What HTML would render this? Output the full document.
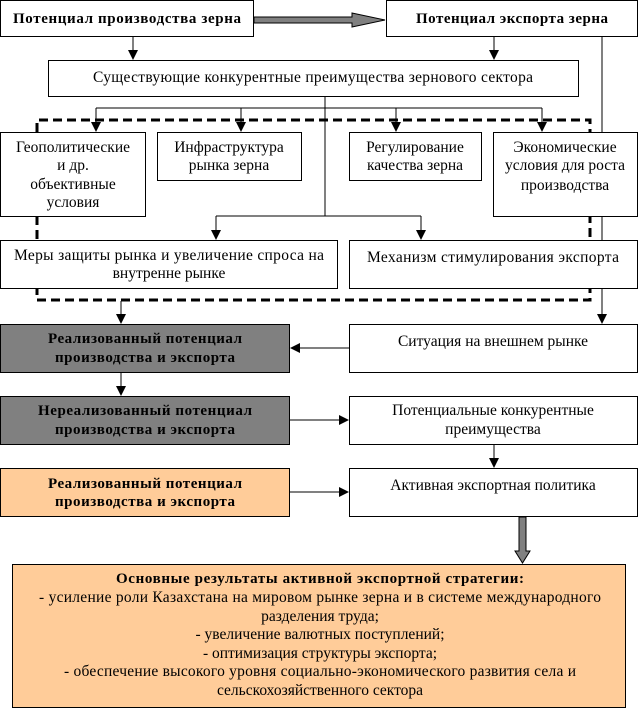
<!DOCTYPE html>
<html><head><meta charset="utf-8"><style>
body{margin:0;background:#fff}
svg{display:block}
text{font-family:"Liberation Serif",serif;font-size:15.5px;text-anchor:middle;fill:#000}
.b{font-weight:bold;font-size:15px}
</style></head><body>
<svg width="639" height="711" viewBox="0 0 639 711">
<defs>
<marker id="a" markerWidth="10" markerHeight="10" refX="9" refY="5" orient="auto" markerUnits="userSpaceOnUse"><path d="M0,0 L10,5 L0,10 Z" fill="#000"/></marker>
</defs>
<g fill="none" stroke="#000" stroke-width="1">
<path d="M37,216 V300 H590 V216 M37,132 V120 H590 V132" stroke-width="3" stroke-dasharray="9,5"/>
<path d="M602,37 V323" marker-end="url(#a)"/>
<path d="M325,97 V216"/>
<rect x="0.5" y="0.5" width="253" height="36" fill="#fff"/>
<rect x="386.5" y="0.5" width="251" height="36" fill="#fff"/>
<rect x="48.5" y="60.5" width="530" height="36" fill="#fff"/>
<rect x="0.5" y="132.5" width="145" height="84" fill="#fff"/>
<rect x="157.5" y="132.5" width="144" height="48" fill="#fff"/>
<rect x="349.5" y="132.5" width="132" height="48" fill="#fff"/>
<rect x="493.5" y="132.5" width="144" height="84" fill="#fff"/>
<rect x="0.5" y="240.5" width="337" height="48" fill="#fff"/>
<rect x="349.5" y="240.5" width="288" height="48" fill="#fff"/>
<rect x="0.5" y="324.5" width="289" height="48" fill="#808080"/>
<rect x="349.5" y="324.5" width="288" height="48" fill="#fff"/>
<rect x="0.5" y="396.5" width="289" height="48" fill="#808080"/>
<rect x="349.5" y="396.5" width="288" height="48" fill="#fff"/>
<rect x="0.5" y="468.5" width="289" height="48" fill="#FFCC99"/>
<rect x="349.5" y="468.5" width="288" height="48" fill="#fff"/>
<rect x="12.5" y="564.5" width="613" height="143" fill="#FFCC99"/>
<path d="M133,37 V59" marker-end="url(#a)"/>
<path d="M494,37 V59" marker-end="url(#a)"/>
<path d="M96,108 H542"/>
<path d="M96,108 V131" marker-end="url(#a)"/>
<path d="M241,108 V131" marker-end="url(#a)"/>
<path d="M396,108 V131" marker-end="url(#a)"/>
<path d="M542,108 V131" marker-end="url(#a)"/>
<path d="M216,216 H421"/>
<path d="M216,216 V239" marker-end="url(#a)"/>
<path d="M421,216 V239" marker-end="url(#a)"/>
<path d="M121,301 V323" marker-end="url(#a)"/>
<path d="M349,348 H291" marker-end="url(#a)"/>
<path d="M121,373 V395" marker-end="url(#a)"/>
<path d="M290,420 H348" marker-end="url(#a)"/>
<path d="M494,445 V467" marker-end="url(#a)"/>
<path d="M290,492 H348" marker-end="url(#a)"/>
</g>
<path d="M254,17 H352 V13 L385,20 L352,27 V23 H254 Z" fill="#808080" stroke="#000" stroke-width="1"/>
<path d="M519,517 H526 V551 H530 L522.5,563 L515,551 H519 Z" fill="#808080" stroke="#000" stroke-width="1"/>
<text class="b" x="127" y="23" textLength="228">Потенциал производства зерна</text>
<text class="b" x="512" y="23" textLength="192">Потенциал экспорта зерна</text>
<text x="313" y="82" textLength="440">Существующие конкурентные преимущества зернового сектора</text>
<text x="73" y="152">Геополитические</text><text x="73" y="170">и др.</text><text x="73" y="189">объективные</text><text x="73" y="207">условия</text>
<text x="229" y="152">Инфраструктура</text><text x="229" y="170">рынка зерна</text>
<text x="415" y="152">Регулирование</text><text x="415" y="170">качества зерна</text>
<text x="565" y="152">Экономические</text><text x="565" y="170">условия для роста</text><text x="565" y="190">производства</text>
<text x="169" y="260" textLength="310">Меры защиты рынка и увеличение спроса на</text><text x="169" y="278">внутренне рынке</text>
<text x="493" y="262" textLength="252">Механизм стимулирования экспорта</text>
<text class="b" x="145" y="343" textLength="194">Реализованный потенциал</text><text class="b" x="145" y="362" textLength="180">производства и экспорта</text>
<text x="493" y="346">Ситуация на внешнем рынке</text>
<text class="b" x="145" y="415" textLength="214">Нереализованный потенциал</text><text class="b" x="145" y="434" textLength="180">производства и экспорта</text>
<text x="493" y="415">Потенциальные конкурентные</text><text x="493" y="434">преимущества</text>
<text class="b" x="145" y="488" textLength="194">Реализованный потенциал</text><text class="b" x="145" y="506" textLength="180">производства и экспорта</text>
<text x="493" y="490">Активная экспортная политика</text>
<text class="b" x="320" y="583" textLength="408">Основные результаты активной экспортной стратегии:</text>
<text x="320" y="602" textLength="562">- усиление роли Казахстана на мировом рынке зерна и в системе международного</text>
<text x="320" y="621">разделения труда;</text>
<text x="320" y="639">- увеличение валютных поступлений;</text>
<text x="320" y="658">- оптимизация структуры экспорта;</text>
<text x="320" y="676" textLength="512">- обеспечение высокого уровня социально-экономического развития села и</text>
<text x="320" y="695">сельскохозяйственного сектора</text>
</svg>
</body></html>
